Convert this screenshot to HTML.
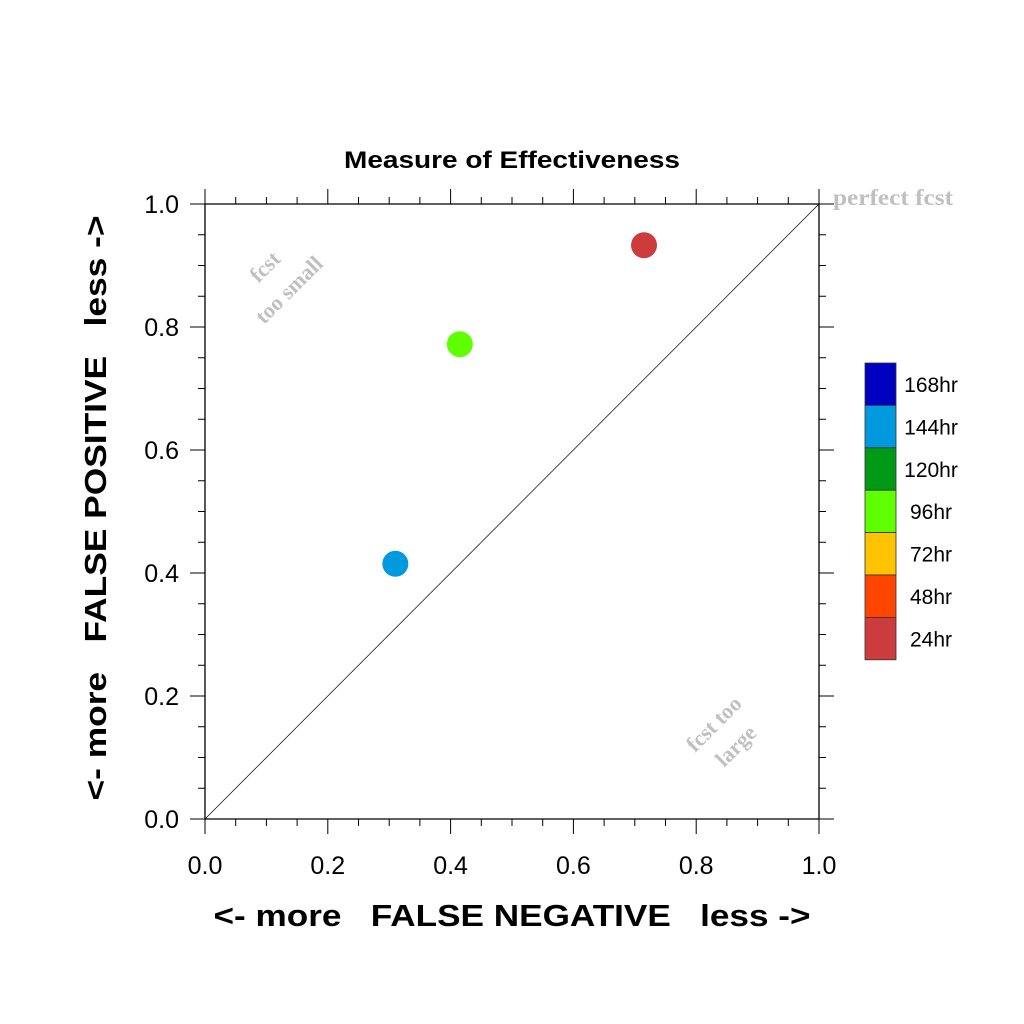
<!DOCTYPE html>
<html><head><meta charset="utf-8"><style>
body{margin:0;background:#fff}
svg{display:block;font-family:"Liberation Sans",sans-serif}
</style></head><body>
<svg id="chart" width="1024" height="1024" viewBox="0 0 1024 1024">
<text x="512" y="168" text-anchor="middle" font-size="24" font-weight="bold" textLength="336" lengthAdjust="spacingAndGlyphs">Measure of Effectiveness</text>
<g id="axes"></g>
<line x1="205" y1="819" x2="819" y2="204" stroke="#000" stroke-width="0.7"/>
<g id="points"></g>
<text x="833" y="205" font-family="Liberation Serif,serif" font-weight="bold" font-size="23" fill="#c0c0c0" textLength="120" lengthAdjust="spacingAndGlyphs">perfect fcst</text>
<g font-family="Liberation Serif,serif" font-weight="bold" font-size="22" fill="#c0c0c0" text-anchor="middle">
<text transform="translate(270,272) rotate(-45)">fcst</text><text transform="translate(294,295) rotate(-45)">too small</text></g>
<g font-family="Liberation Serif,serif" font-weight="bold" font-size="22" fill="#c0c0c0" text-anchor="middle">
<text transform="translate(719,729) rotate(-45)">fcst too</text><text transform="translate(741,751) rotate(-45)">large</text></g>
<text x="512" y="926" text-anchor="middle" font-size="31" font-weight="bold" xml:space="preserve" textLength="597" lengthAdjust="spacingAndGlyphs">&lt;- more   FALSE NEGATIVE   less -&gt;</text>
<text transform="translate(106,508) rotate(-90)" text-anchor="middle" font-size="31" font-weight="bold" xml:space="preserve" textLength="585" lengthAdjust="spacingAndGlyphs">&lt;- more   FALSE POSITIVE   less -&gt;</text>
<g id="legend"></g>
</svg>
<script>
const ticks=[0,0.2,0.4,0.6,0.8,1.0];
const tickLabels=["0.0","0.2","0.4","0.6","0.8","1.0"];
const ptX=[0.31,0.415,0.715];
const ptY=[0.415,0.772,0.933];
const ptColor=["#0099dd","#5fff00","#cc3c3c"];
const ptName=["144hr","96hr","24hr"];
const legLabels=["168hr","144hr","120hr","96hr","72hr","48hr","24hr"];
const legColors=["#0000c0","#0099dd","#009a17","#5fff00","#ffc300","#ff4500","#cc3c3c"];
const NS="http://www.w3.org/2000/svg";
const X0=205,X1=819,Y0=819,Y1=204;
const sx=v=>X0+v*(X1-X0), sy=v=>Y0-v*(Y0-Y1);
function mk(t,a,p){const e=document.createElementNS(NS,t);for(const k in a)e.setAttribute(k,a[k]);p.appendChild(e);return e;}
const ax=document.getElementById('axes');
const frame=[[X0,Y0,X1,Y0],[X0,Y1,X1,Y1],[X0,Y1,X0,Y0],[X1,Y1,X1,Y0]];
frame.forEach(f=>{const l=mk('line',{x1:f[0],y1:f[1],x2:f[2],y2:f[3],stroke:'#000','stroke-width':1.3},ax);

});
for(let i=0;i<=20;i++){const v=i/20;const L=(i%4===0)?15:7;const x=sx(v),y=sy(v);
[[x,Y0,x,Y0+L],[x,Y1,x,Y1-L],[X0,y,X0-L,y],[X1,y,X1+L,y]].forEach(s=>{const l=mk('line',{x1:s[0],y1:s[1],x2:s[2],y2:s[3],stroke:'#000','stroke-width':1},ax);

});}
ticks.forEach((v,i)=>{
const t=mk('text',{x:sx(v),y:874,'text-anchor':'middle','font-size':25},ax);t.textContent=tickLabels[i];


const u=mk('text',{x:179,y:sy(v)+9,'text-anchor':'end','font-size':25},ax);u.textContent=tickLabels[i];

});
const pg=document.getElementById('points');
ptX.forEach((v,i)=>{const c=mk('circle',{cx:sx(v),cy:sy(ptY[i]),r:13,fill:ptColor[i]},pg);

});
const lg=document.getElementById('legend');
const LY=363,LH=42.4;
legLabels.forEach((s,i)=>{const r=mk('rect',{x:865,y:LY+i*LH,width:31,height:LH,fill:legColors[i],stroke:'#333','stroke-width':0.8},lg);


const t=mk('text',{x:931,y:LY+i*LH+29,'text-anchor':'middle','font-size':21},lg);t.textContent=s;

});
</script>
</body></html>
